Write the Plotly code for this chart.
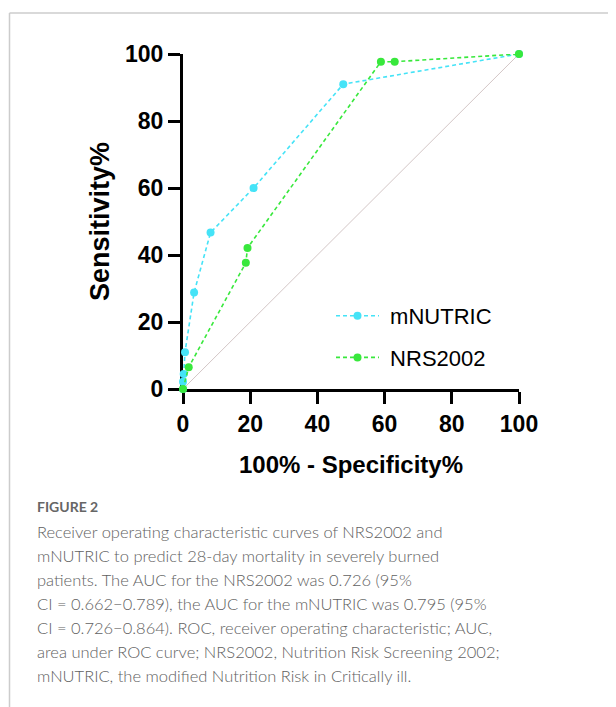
import plotly.graph_objects as go

# ---- data ----
mnutric_x = [0, 0, 0.2, 0.6, 3.3, 8.2, 21.0, 47.7, 100]
mnutric_y = [0, 2.2, 4.5, 11.0, 28.8, 46.7, 60.0, 91.0, 100]
nrs_x = [0, 1.7, 18.7, 19.2, 58.9, 63.0, 100]
nrs_y = [0, 6.5, 37.7, 42.1, 97.7, 97.7, 100]
ref_x = [0, 100]
ref_y = [0, 100]
tick_vals = [0, 20, 40, 60, 80, 100]
tick_text = ["0", "20", "40", "60", "80", "100"]
series_names = ["mNUTRIC", "NRS2002"]

caption_title = "FIGURE 2"
caption_lines = [
    "Receiver operating characteristic curves of NRS2002 and",
    "mNUTRIC to predict 28-day mortality in severely burned",
    "patients. The AUC for the NRS2002 was 0.726 (95%",
    "CI = 0.662\u22120.789), the AUC for the mNUTRIC was 0.795 (95%",
    "CI = 0.726\u22120.864). ROC, receiver operating characteristic; AUC,",
    "area under ROC curve; NRS2002, Nutrition Risk Screening 2002;",
    "mNUTRIC, the modified Nutrition Risk in Critically ill.",
]

# page body has an 8px margin: figure is placed at (8, 8)
OFF = 8
W, H = 616 - OFF, 707 - OFF
L, T = 183 - OFF, 54 - OFF
PW, PH = 336, 335
R, B = W - L - PW, H - T - PH


def px(x):
    return (x - OFF - L) / PW


def py(y):
    return (T + PH - (y - OFF)) / PH


CYAN = "#45e3f7"
GREEN = "#38e83c"
FONT = "Arial, Liberation Sans, sans-serif"
CAP_FONT = "Lato, Open Sans, sans-serif"

fig = go.Figure()
fig.add_trace(go.Scatter(x=ref_x, y=ref_y, mode="lines",
                         line=dict(color="#d3c6c6", width=1),
                         showlegend=False, hoverinfo="skip"))
fig.add_trace(go.Scatter(x=mnutric_x, y=mnutric_y, mode="lines+markers",
                         name="\u00a0" + series_names[0], legendgroup="a",
                         line=dict(color=CYAN, width=1.6, dash="4px,3px"),
                         marker=dict(color=CYAN, size=8), cliponaxis=False))
fig.add_trace(go.Scatter(x=nrs_x, y=nrs_y, mode="lines+markers",
                         name="\u00a0" + series_names[1], legendgroup="b",
                         line=dict(color=GREEN, width=1.6, dash="4px,3px"),
                         marker=dict(color=GREEN, size=8), cliponaxis=False))

axis_common = dict(
    range=[0, 100], tickvals=tick_vals, ticktext=tick_text,
    showline=True, linecolor="black", linewidth=3,
    ticks="outside", ticklen=12, tickwidth=3, tickcolor="black",
    showgrid=False, zeroline=False, layer="below traces",
    tickfont=dict(family=FONT, size=23, color="black", weight="bold"),
)
fig.update_xaxes(**axis_common,
                 title=dict(text="<b>100% - Specificity%</b>", standoff=21,
                            font=dict(family=FONT, size=24, color="black")))
fig.update_yaxes(**axis_common,
                 title=dict(text="<b>Sensitivity%</b>", standoff=8,
                            font=dict(family=FONT, size=27, color="black")))

annotations = [dict(text="<b>" + caption_title + "</b>", x=px(35), y=py(507),
                    xref="paper", yref="paper", xanchor="left", yanchor="middle",
                    showarrow=False,
                    font=dict(family=CAP_FONT, size=14, color="#666666"))]
for i, line in enumerate(caption_lines):
    annotations.append(dict(text=line, x=px(35), y=py(532 + 24 * i),
                            xref="paper", yref="paper", xanchor="left", yanchor="middle",
                            showarrow=False,
                            font=dict(family=CAP_FONT, size=16.5, color="#616161", weight=300)))

shapes = [
    dict(type="line", xref="paper", yref="paper", x0=px(9.5), x1=px(620), y0=py(13), y1=py(13),
         line=dict(color="#cccccc", width=1.5)),
    dict(type="line", xref="paper", yref="paper", x0=px(9.5), x1=px(9.5), y0=py(13), y1=py(710),
         line=dict(color="#cccccc", width=1.5)),
]

fig.update_layout(
    width=W, height=H,
    margin=dict(l=L, r=R, t=T, b=B, autoexpand=False),
    paper_bgcolor="white", plot_bgcolor="white",
    showlegend=True,
    legend=dict(x=px(331), y=py(295), xanchor="left", yanchor="top",
                font=dict(family=FONT, size=22, color="black"),
                bgcolor="rgba(0,0,0,0)", tracegroupgap=10, traceorder="grouped",
                itemwidth=43),
    annotations=annotations, shapes=shapes,
)

fig.write_html("out.html")
